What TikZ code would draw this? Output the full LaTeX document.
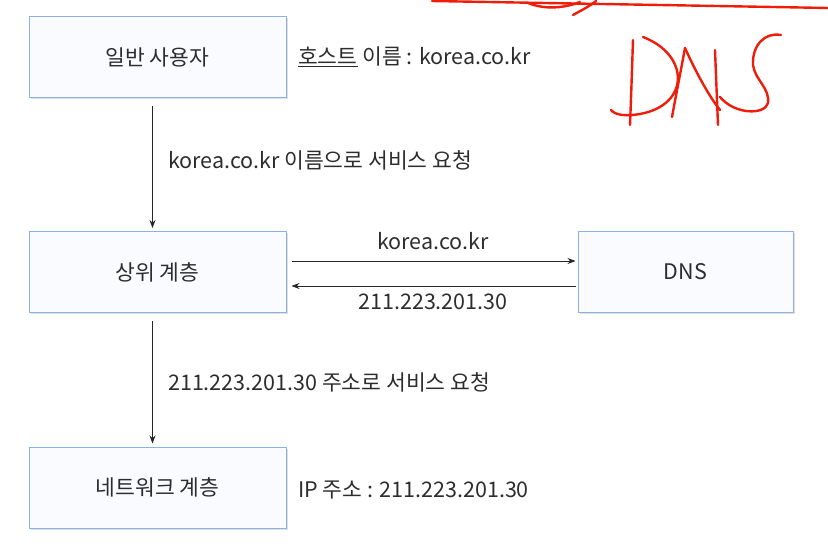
\documentclass[tikz,border=0pt]{standalone}
\usepackage{fontspec}
\setmainfont{Noto Sans CJK KR}
\usetikzlibrary{arrows.meta,shadows}
\definecolor{boxline}{RGB}{140,178,228}
\definecolor{boxfill}{RGB}{249,251,255}
\definecolor{txt}{RGB}{45,45,45}
\definecolor{pen}{RGB}{240,28,10}
\begin{document}
\begin{tikzpicture}[x=1pt, y=-1pt,
    box/.style={draw=boxline, fill=boxfill, line width=1pt, minimum width=257pt, minimum height=81pt,
      text=txt, font=\fontsize{21.5}{21.5}\selectfont, drop shadow={opacity=0.25, shadow xshift=1.5pt, shadow yshift=-1.5pt}},
    lbl/.style={text=txt, font=\fontsize{21.5}{21.5}\selectfont, inner sep=0pt},
    arr/.style={-{Stealth[length=8pt,width=6pt]}, line width=0.8pt, draw=black!85},
    ink/.style={draw=pen, line width=2.4pt, line cap=round, line join=round}]
  \useasboundingbox (0,0) rectangle (828,556);
  \node[box] (user) at (157.5,57) {일반 사용자};
  \node[box] (upper) at (157.5,272) {상위 계층};
  \node[box, minimum width=215pt] (dns) at (685.5,272) {DNS};
  \node[box] (net) at (157.5,487.5) {네트워크 계층};
  \node[lbl, anchor=west] (host) at (298,57) {\underline{호스트} 이름 : korea.co.kr};
  \node[lbl, anchor=west] (req1) at (168,160) {korea.co.kr 이름으로 서비스 요청};
  \node[lbl, anchor=west] (req2) at (168,382) {211.223.201.30 주소로 서비스 요청};
  \node[lbl, anchor=west] (ip) at (298,490) {IP 주소 : 211.223.201.30};
  \node[lbl] (qname) at (433,241) {korea.co.kr};
  \node[lbl] (qaddr) at (433,302) {211.223.201.30};
  \draw[arr] ([xshift=-5pt,yshift=-8pt]user.south) -- ([xshift=-5pt,yshift=3pt]upper.north);
  \draw[arr] ([xshift=-5pt,yshift=-8pt]upper.south) -- ([xshift=-5pt,yshift=3pt]net.north);
  \draw[arr] ([xshift=5pt,yshift=11pt]upper.east) -- ([xshift=-2pt,yshift=11pt]dns.west);
  \draw[arr] ([xshift=-2pt,yshift=-14pt]dns.west) -- ([xshift=5pt,yshift=-14pt]upper.east);
  % pen marks
  \draw[ink] (432,1) .. controls (600,4) and (720,6) .. (828,8);
  \draw[ink] (528,3) .. controls (545,10) and (565,8) .. (580,2);
  \draw[ink] (573,15) .. controls (582,10) and (590,6) .. (596,1);
  \draw[ink] (633,40) .. controls (632,70) and (631,100) .. (630,125);
  \draw[ink] (643,37) .. controls (690,55) and (690,105) .. (640,114) .. controls (628,116) and (616,116) .. (611,110);
  \draw[ink] (672,117) .. controls (676,95) and (681,70) .. (685,48);
  \draw[ink] (685,48) .. controls (695,70) and (708,95) .. (720,110);
  \draw[ink] (715,50) .. controls (716,75) and (717,100) .. (718,125);
  \draw[ink] (781,35) .. controls (765,32) and (752,45) .. (753,65) .. controls (755,80) and (770,88) .. (768,103) .. controls (765,115) and (735,115) .. (720,97);
\end{tikzpicture}
\end{document}
